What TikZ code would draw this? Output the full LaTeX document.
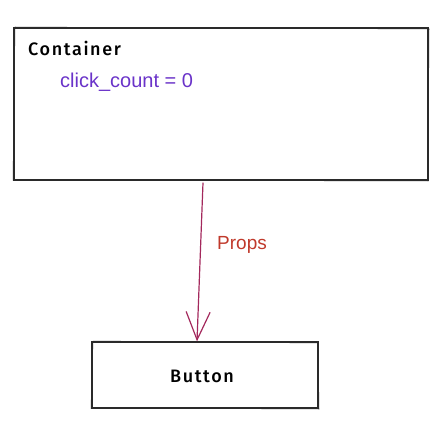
\documentclass[tikz,border=0pt]{standalone}
\usepackage{fontspec}
\setmainfont{Liberation Sans}
\newfontfamily\handfont[LetterSpace=9]{Fira Sans Medium}
\usetikzlibrary{arrows.meta}
\definecolor{boxline}{HTML}{2A2A2A}
\definecolor{varcol}{HTML}{6A33C9}
\definecolor{propcol}{HTML}{C0392B}
\definecolor{arrowcol}{HTML}{A3285C}
\tikzset{
  sketchbox/.style={draw=boxline, line width=1.3pt, fill=white, inner sep=0pt},
  handlabel/.style={font=\handfont\fontsize{18}{20}\selectfont, text=black},
  codelabel/.style={font=\fontsize{20}{22}\selectfont, text=varcol, inner sep=0pt, anchor=west},
  proplabel/.style={font=\fontsize{19}{21}\selectfont, text=propcol, inner sep=0pt, anchor=west},
  flow/.style={draw=arrowcol, line width=1.2pt, -{Straight Barb[length=28pt, width=24pt, line width=1.2pt]}}
}
\begin{document}
\begin{tikzpicture}[x=1pt, y=-1pt]
\useasboundingbox (0,0) rectangle (447,441);
\node[sketchbox, minimum width=414pt, minimum height=152pt] (cont) at (221,104) {};
\draw[boxline, line width=0.5pt] (15,27) -- (429,29) -- (428,181) -- (13,180) -- cycle;
\node[handlabel, anchor=west, inner sep=0pt] (ctitle) at (28,48) {Container};
\node[codelabel] (cvar) at (60,82) {click\_count = 0};
\node[sketchbox, minimum width=226pt, minimum height=66pt] (btn) at (205,375) {};
\draw[boxline, line width=0.5pt] (93,341) -- (318,343) -- (319,409) -- (91,408) -- cycle;
\node[handlabel] (btext) at (202,376) {Button};
\path (cont.south) ++(-18,2) coordinate (a);
\path (btn.north) ++(-8,0) coordinate (b);
\draw[flow] (a) -- (b);
\node[proplabel] (props) at (217,245) {Props};
\end{tikzpicture}
\end{document}
